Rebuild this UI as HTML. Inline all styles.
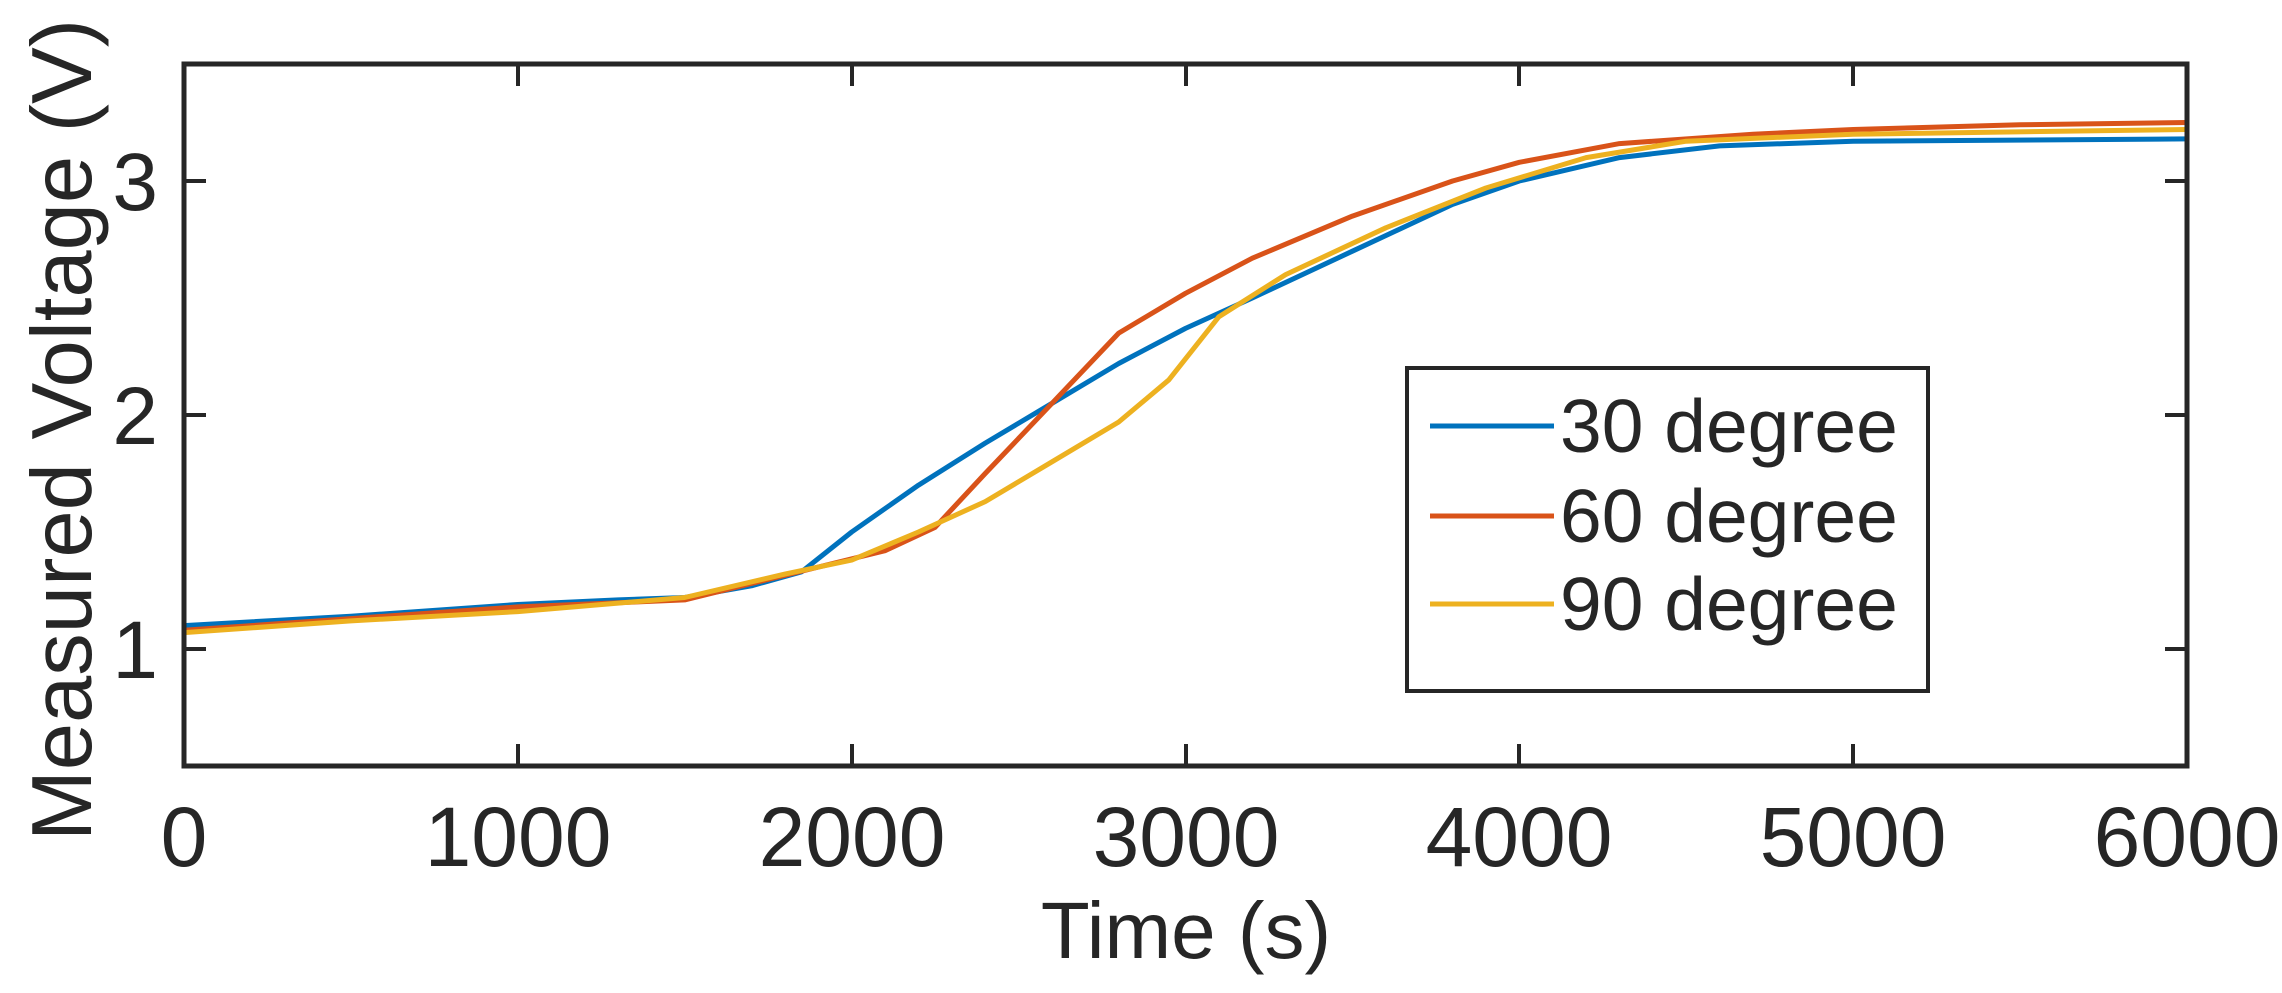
<!DOCTYPE html>
<html><head><meta charset="utf-8"><style>
html,body{margin:0;padding:0;background:#fff;}
svg{display:block;}
text{font-family:"Liberation Sans",sans-serif;fill:#262626;}
</style></head><body>
<svg id="s" width="2282" height="993" viewBox="0 0 2282 993" xmlns="http://www.w3.org/2000/svg">
<rect x="0" y="0" width="2282" height="993" fill="#fff"/>
<g id="curves" fill="none" stroke-width="5" stroke-linejoin="round"></g>
<rect x="184" y="64" width="2003" height="702" fill="none" stroke="#262626" stroke-width="5"/>
<g stroke="#262626" stroke-width="4">
<line x1="184" y1="181" x2="206" y2="181"/><line x1="184" y1="415" x2="206" y2="415"/><line x1="184" y1="649" x2="206" y2="649"/>
<line x1="2187" y1="181" x2="2165" y2="181"/><line x1="2187" y1="415" x2="2165" y2="415"/><line x1="2187" y1="649" x2="2165" y2="649"/>
<line x1="518" y1="766" x2="518" y2="744"/><line x1="852" y1="766" x2="852" y2="744"/><line x1="1186" y1="766" x2="1186" y2="744"/><line x1="1519" y1="766" x2="1519" y2="744"/><line x1="1853" y1="766" x2="1853" y2="744"/>
<line x1="518" y1="64" x2="518" y2="86"/><line x1="852" y1="64" x2="852" y2="86"/><line x1="1186" y1="64" x2="1186" y2="86"/><line x1="1519" y1="64" x2="1519" y2="86"/><line x1="1853" y1="64" x2="1853" y2="86"/>
</g>
<g id="xl" font-size="84" text-anchor="middle">
<text x="184" y="866">0</text><text x="518" y="866">1000</text><text x="852" y="866">2000</text><text x="1186" y="866">3000</text><text x="1519" y="866">4000</text><text x="1853" y="866">5000</text><text x="2187" y="866">6000</text>
</g>
<g font-size="82" text-anchor="end">
<text x="158" y="210">3</text><text x="158" y="444">2</text><text x="158" y="678">1</text>
</g>
<text x="1186" y="958" font-size="80" text-anchor="middle">Time (s)</text>
<text transform="translate(91,430) rotate(-90)" font-size="85" text-anchor="middle">Measured Voltage (V)</text>
<rect x="1407" y="368" width="521" height="323" fill="#fff" stroke="#262626" stroke-width="4"/>
<line x1="1430" y1="426" x2="1554" y2="426" stroke="#0072BD" stroke-width="5"/>
<line x1="1430" y1="516" x2="1554" y2="516" stroke="#D95319" stroke-width="5"/>
<line x1="1430" y1="604" x2="1554" y2="604" stroke="#EDB120" stroke-width="5"/>
<g font-size="75"><text x="1560" y="452">30 degree</text><text x="1560" y="542">60 degree</text><text x="1560" y="630">90 degree</text></g>
</svg>
<script>
var D={
"#0072BD":[[0,1.1],[500,1.14],[1000,1.19],[1300,1.21],[1500,1.22],[1700,1.27],[1850,1.33],[2000,1.5],[2200,1.7],[2400,1.88],[2600,2.05],[2800,2.22],[3000,2.37],[3200,2.5],[3500,2.7],[3800,2.9],[4000,3.0],[4300,3.1],[4600,3.15],[5000,3.17],[6000,3.18]],
"#EDB120":[[0,1.07],[500,1.12],[1000,1.16],[1500,1.22],[1800,1.32],[2000,1.38],[2200,1.5],[2400,1.63],[2600,1.8],[2800,1.97],[2950,2.15],[3100,2.42],[3300,2.6],[3600,2.8],[3900,2.97],[4200,3.1],[4500,3.17],[5000,3.2],[6000,3.22]],
"#D95319":[[0,1.08],[500,1.13],[1000,1.18],[1500,1.21],[1700,1.28],[1900,1.35],[2100,1.42],[2250,1.52],[2400,1.75],[2600,2.05],[2800,2.35],[3000,2.52],[3200,2.67],[3500,2.85],[3800,3.0],[4000,3.08],[4300,3.16],[4700,3.2],[5000,3.22],[5500,3.24],[6000,3.25]]
};
var cg=document.getElementById('curves');
["#0072BD","#D95319","#EDB120"].forEach(function(c){
var p=D[c].map(function(d){return (184+d[0]*0.33383).toFixed(1)+','+(766-(d[1]-0.5)*234).toFixed(1);}).join(' ');
var e=document.createElementNS('http://www.w3.org/2000/svg','polyline');e.setAttribute('points',p);e.setAttribute('stroke',c);cg.appendChild(e);});
</script>
</body></html>
